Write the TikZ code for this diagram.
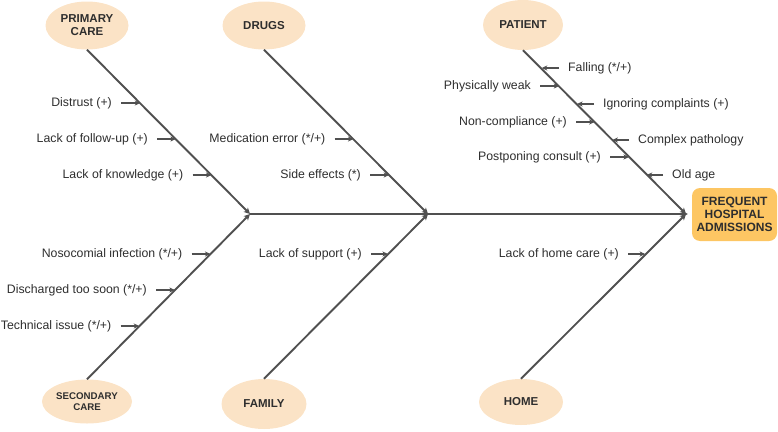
\documentclass[tikz,border=0pt]{standalone}
\usepackage{fontspec}
\setmainfont{Liberation Sans}
\usetikzlibrary{shapes.geometric,arrows.meta}
\definecolor{peach}{HTML}{FBE3C6}
\definecolor{gold}{HTML}{FDC663}
\definecolor{ink}{HTML}{505050}
\definecolor{txt}{HTML}{2E2E2E}
\tikzset{
  cat/.style={ellipse, fill=peach, inner sep=0pt, minimum width=83pt, minimum height=48pt,
    align=center, text=txt, font=\fontsize{11.5}{13}\selectfont\bfseries},
  effect/.style={rectangle, rounded corners=8pt, fill=gold, inner sep=0pt, minimum width=85pt,
    minimum height=53pt, align=center, text=txt, font=\fontsize{12}{13.2}\selectfont\bfseries},
  lab/.style={inner sep=0pt, text=txt, font=\fontsize{12.3}{14}\selectfont},
  branch/.style={draw=ink, line width=1.9pt, -{Stealth[length=6pt,width=6pt,inset=1.5pt]}},
  sub/.style={draw=ink, line width=2pt, -{Stealth[length=5.5pt,width=5pt,inset=1.5pt]}, shorten <=9pt},
}
\begin{document}
\begin{tikzpicture}[x=1pt,y=-1pt]
\useasboundingbox (0,0) rectangle (778,431);
% category nodes
\node[cat] (pc) at (87,25.5) {PRIMARY\\CARE};
\node[cat] (dr) at (264,25.5) {DRUGS};
\node[cat, minimum width=80pt, minimum height=50pt] (pt) at (523,25) {PATIENT};
\node[cat, minimum width=90pt, minimum height=44pt, font=\fontsize{9.7}{11.5}\selectfont\bfseries] (sc) at (87,401.5) {SECONDARY\\CARE};
\node[cat, minimum width=85pt, minimum height=50pt] (fam) at (264,404) {FAMILY};
\node[cat, minimum width=84pt, minimum height=46pt] (home) at (521,402) {HOME};
\node[effect] (fha) at (734.5,214.5) {FREQUENT\\HOSPITAL\\ADMISSIONS};
% spine points
\coordinate (spL) at (250,214);
\coordinate (spD) at (428,214);
\coordinate (spP) at (686,214);
% spine and branches
\draw[branch, shorten >=4pt] (spL) -- (fha.west |- spL);
\draw[branch] (pc.south) -- (spL);
\draw[branch] (sc.north) -- (spL);
\draw[branch] (dr.south) -- (spD);
\draw[branch] (fam.north) -- (spD);
\draw[branch] (pt.south) -- (spP);
\draw[branch] (home.north) -- (spP);
% primary care causes
\node[lab, anchor=east] (a1) at (112,103) {Distrust (+)};
\coordinate (a1p) at (140.3,103);
\draw[sub] (a1.east) -- (a1p);
\node[lab, anchor=east] (a2) at (148,139) {Lack of follow-up (+)};
\coordinate (a2p) at (175.9,139);
\draw[sub] (a2.east) -- (a2p);
\node[lab, anchor=east] (a3) at (183.5,175) {Lack of knowledge (+)};
\coordinate (a3p) at (211.5,175);
\draw[sub] (a3.east) -- (a3p);
% drugs causes
\node[lab, anchor=east] (b1) at (325.5,139) {Medication error (*/+)};
\coordinate (b1p) at (353.5,139);
\draw[sub] (b1.east) -- (b1p);
\node[lab, anchor=east] (b2) at (361,175) {Side effects (*)};
\coordinate (b2p) at (389.2,175);
\draw[sub] (b2.east) -- (b2p);
% patient causes
\node[lab, anchor=west] (c1) at (568,68) {Falling (*/+)};
\coordinate (c1p) at (541.7,68);
\draw[sub] (c1.west) -- (c1p);
\node[lab, anchor=east] (c2) at (531,86) {Physically weak};
\coordinate (c2p) at (559.3,86);
\draw[sub] (c2.east) -- (c2p);
\node[lab, anchor=west] (c3) at (603,104) {Ignoring complaints (+)};
\coordinate (c3p) at (577,104);
\draw[sub] (c3.west) -- (c3p);
\node[lab, anchor=east] (c4) at (567,122) {Non-compliance (+)};
\coordinate (c4p) at (594.7,122);
\draw[sub] (c4.east) -- (c4p);
\node[lab, anchor=west] (c5) at (638,140) {Complex pathology};
\coordinate (c5p) at (612.3,140);
\draw[sub] (c5.west) -- (c5p);
\node[lab, anchor=east] (c6) at (601,157) {Postponing consult (+)};
\coordinate (c6p) at (629,157);
\draw[sub] (c6.east) -- (c6p);
\node[lab, anchor=west] (c7) at (672,175) {Old age};
\coordinate (c7p) at (646.7,175);
\draw[sub] (c7.west) -- (c7p);
% secondary care causes
\node[lab, anchor=east] (d1) at (182.5,254) {Nosocomial infection (*/+)};
\coordinate (d1p) at (210.5,254);
\draw[sub] (d1.east) -- (d1p);
\node[lab, anchor=east] (d2) at (147,290) {Discharged too soon (*/+)};
\coordinate (d2p) at (174.9,290);
\draw[sub] (d2.east) -- (d2p);
\node[lab, anchor=east] (d3) at (111.5,326) {Technical issue (*/+)};
\coordinate (d3p) at (139.3,326);
\draw[sub] (d3.east) -- (d3p);
% family causes
\node[lab, anchor=east] (e1) at (362,254) {Lack of support (+)};
\coordinate (e1p) at (388,254);
\draw[sub] (e1.east) -- (e1p);
% home causes
\node[lab, anchor=east] (f1) at (619,254) {Lack of home care (+)};
\coordinate (f1p) at (645.2,254);
\draw[sub] (f1.east) -- (f1p);
\end{tikzpicture}
\end{document}
